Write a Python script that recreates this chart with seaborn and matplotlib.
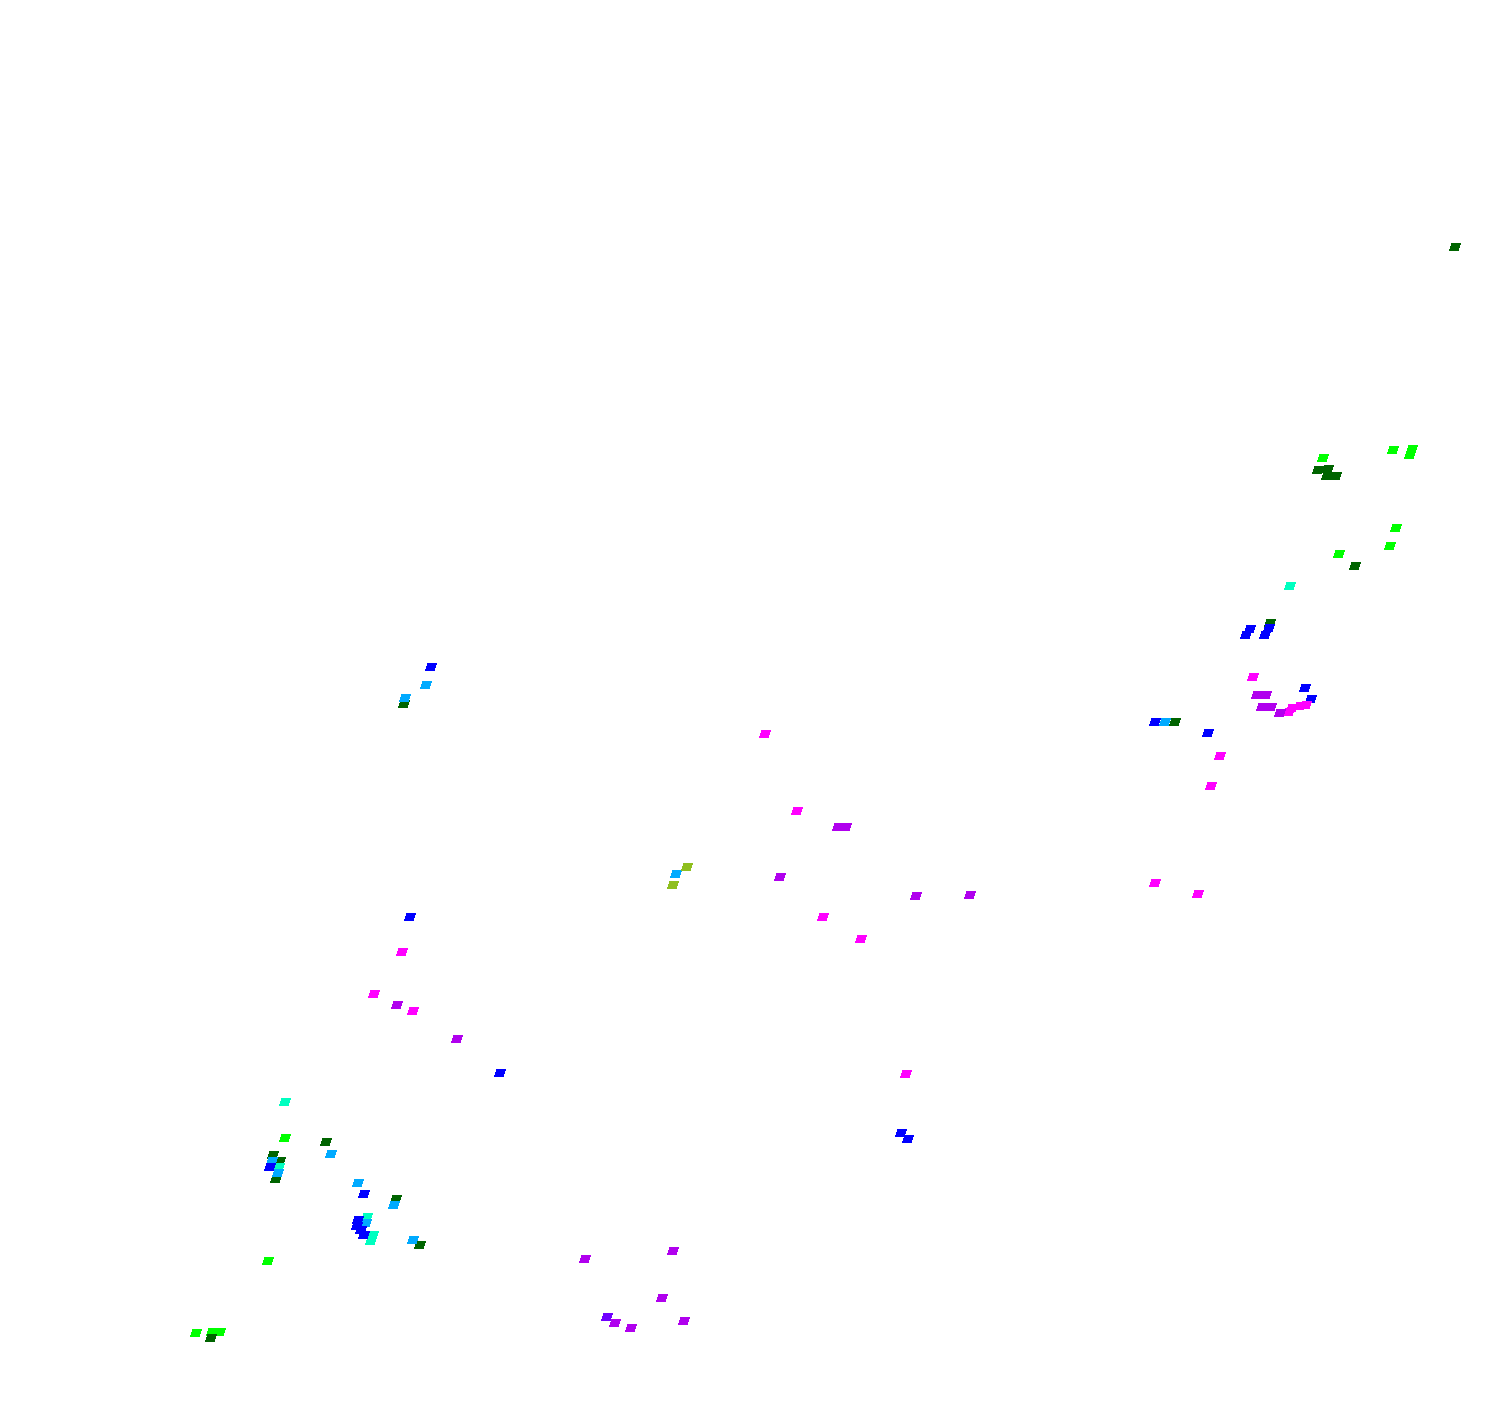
import matplotlib
matplotlib.use("Agg")
import matplotlib.pyplot as plt
import seaborn as sns
import pandas as pd

# point positions (x to the right, y downwards), one list per colour group
lime_x = [1323, 1393, 1412, 1410, 1396, 1390, 1339, 285, 268, 196, 212, 220]
lime_y = [458, 450, 449, 455, 528, 546, 554, 1138, 1261, 1333, 1332, 1332]

darkgreen_x = [1455, 1318, 1328, 1327, 1336, 1355, 1270, 1175, 326, 273, 280, 276, 396, 420, 211, 404]
darkgreen_y = [247, 470, 469, 476, 476, 566, 623, 722, 1142, 1155, 1161, 1179, 1199, 1245, 1338, 704]

teal_x = [1290, 285, 279, 367, 373, 371]
teal_y = [586, 1102, 1167, 1217, 1235, 1241]

sky_x = [1165, 331, 272, 278, 358, 394, 366, 413, 426, 405, 676]
sky_y = [722, 1154, 1161, 1173, 1183, 1205, 1223, 1240, 685, 698, 874]

blue_x = [1250, 1246, 1269, 1265, 1305, 1311, 1155, 1208, 270, 364, 358, 357, 361, 364, 431, 410, 500, 901, 908]
blue_y = [629, 635, 628, 635, 688, 699, 722, 733, 1167, 1194, 1220, 1226, 1230, 1235, 667, 917, 1073, 1133, 1139]

magenta_x = [1253, 1292, 1300, 1306, 1289, 1220, 1211, 765, 797, 823, 861, 402, 374, 413, 906, 1155, 1198]
magenta_y = [677, 708, 706, 705, 712, 756, 786, 734, 811, 917, 939, 952, 994, 1011, 1074, 883, 894]

purple_x = [1257, 1266, 1262, 1271, 1280, 838, 846, 780, 916, 970, 397, 457, 585, 673, 662, 615, 631, 684]
purple_y = [695, 695, 707, 707, 713, 827, 827, 877, 896, 895, 1005, 1039, 1259, 1251, 1298, 1323, 1328, 1321]

violet_x = [607]
violet_y = [1317]

olive_x = [687, 673]
olive_y = [867, 885]

groups = {
    "lime": (lime_x, lime_y),
    "darkgreen": (darkgreen_x, darkgreen_y),
    "teal": (teal_x, teal_y),
    "sky": (sky_x, sky_y),
    "blue": (blue_x, blue_y),
    "magenta": (magenta_x, magenta_y),
    "purple": (purple_x, purple_y),
    "violet": (violet_x, violet_y),
    "olive": (olive_x, olive_y),
}
palette = {
    "lime": "#00ff00",
    "darkgreen": "#006400",
    "teal": "#00ffc0",
    "sky": "#00aaff",
    "blue": "#0000ff",
    "magenta": "#ff00ff",
    "purple": "#b000ee",
    "violet": "#7000ff",
    "olive": "#8fbf1f",
}

rows = []
for name, (xs, ys) in groups.items():
    for x, y in zip(xs, ys):
        rows.append({"x": x, "y": y, "group": name})
df = pd.DataFrame(rows)

# slanted little parallelogram marker
para = [(-0.5, -0.3), (0.32, -0.3), (0.5, 0.3), (-0.32, 0.3), (-0.5, -0.3)]

fig = plt.figure(figsize=(15, 14.08), dpi=100)
ax = fig.add_axes([0, 0, 1, 1])
sns.scatterplot(data=df, x="x", y="y", hue="group", palette=palette, marker=para,
                s=58, linewidth=0, antialiased=False, legend=False, ax=ax)
ax.set_xlim(0, 1500)
ax.set_ylim(1408, 0)
ax.axis("off")

fig.savefig("out.png", dpi=100, facecolor="white")
